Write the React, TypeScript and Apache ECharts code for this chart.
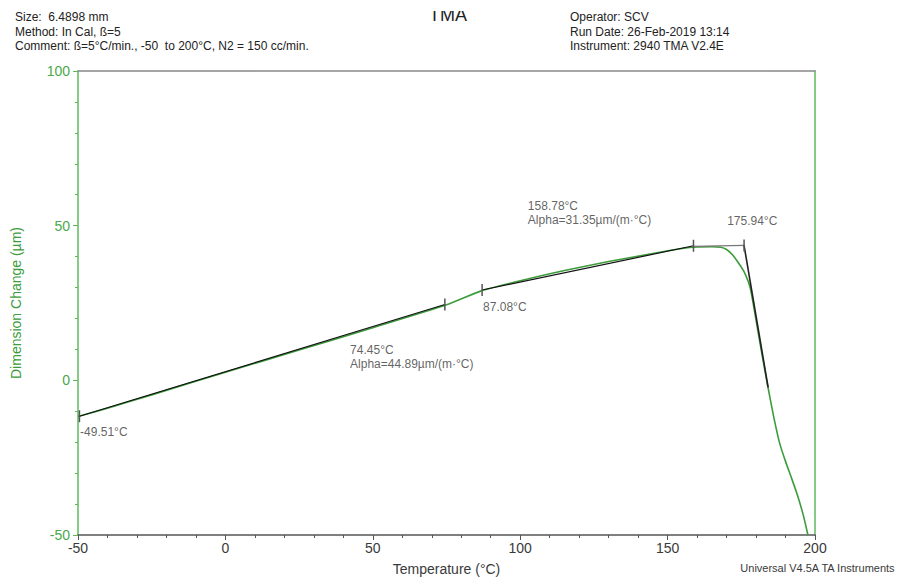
import React, { useEffect, useRef } from "react";
import * as echarts from "echarts";

const curveTemps = [-50, -40, -25, 0, 25, 50, 75, 87, 100, 115, 130, 145, 155, 160, 165, 168, 170, 172, 174, 176, 178, 180, 182, 184, 186, 188, 190, 192, 194, 196, 197.6];
const curveValues = [-11.7, -9.0, -4.7, 2.6, 9.8, 17.0, 24.4, 29.0, 32.2, 35.5, 38.4, 41.0, 42.6, 43.1, 43.2, 43.0, 42.3, 40.6, 38.0, 35.0, 30.0, 19.5, 8.5, -2.0, -11.8, -20.3, -26.2, -31.5, -37.0, -43.5, -50.0];

const tangent1 = [[-49.51, -11.6], [74.45, 24.5]];
const tangent2 = [[87.08, 29.2], [158.78, 43.5]];
const onsetBase = [[158.78, 43.3], [175.94, 43.6]];
const onsetSteep = [[175.94, 43.6], [184.1, -2.3]];

const annotationPoints = [
  { at: [-49.3, -16.8], text: "-49.51°C" },
  { at: [42.3, 7.6], text: "74.45°C\nAlpha=44.89µm/(m·°C)" },
  { at: [87.4, 23.6], text: "87.08°C" },
  { at: [102.6, 54.0], text: "158.78°C\nAlpha=31.35µm/(m·°C)" },
  { at: [170.2, 51.4], text: "175.94°C" },
];

const headerLeft = ["Size:  6.4898 mm", "Method: In Cal, ß=5", "Comment: ß=5°C/min., -50  to 200°C, N2 = 150 cc/min."];
const headerRight = ["Operator: SCV", "Run Date: 26-Feb-2019 13:14", "Instrument: 2940 TMA V2.4E"];
const title = "TMA";
const footer = "Universal V4.5A TA Instruments";

const FONT = "'Liberation Sans', Arial, sans-serif";
const GREEN = "#3c9c3c";
const AXIS_GREEN = "#5cb85c";
const LABEL_GREEN = "#4aa84a";
const DARK = "#3a3a3a";

export default function App() {
  const ref = useRef<HTMLDivElement>(null);
  useEffect(() => {
    if (!ref.current) return;
    const chart = echarts.init(ref.current, null, { renderer: "svg" });
    const tickSym = (pts: number[][], color: string, ends: boolean[]) =>
      pts.map((p, i) => ({
        value: p,
        symbol: ends[i] ? "rect" : "none",
        symbolSize: [1.5, 12],
        itemStyle: { color },
      }));
    chart.setOption({
      animation: false,
      backgroundColor: "#fff",
      textStyle: { fontFamily: FONT },
      grid: { left: 78, right: 83, top: 71, bottom: 43, containLabel: false, outerBoundsMode: "none" },
      xAxis: [
        {
          type: "value",
          min: -50,
          max: 200,
          interval: 50,
          name: "Temperature (°C)",
          nameLocation: "middle",
          nameGap: 27,
          nameTextStyle: { color: DARK, fontSize: 14, fontFamily: FONT },
          axisLine: { show: true, onZero: false, lineStyle: { color: "#555", width: 1.5 } },
          axisTick: { show: true, length: 5, lineStyle: { color: "#555" } },
          minorTick: { show: true, splitNumber: 5, length: 3, lineStyle: { color: "#555" } },
          axisLabel: { color: DARK, fontSize: 14, margin: 6, fontFamily: FONT },
          splitLine: { show: false },
        },
        {
          type: "value",
          position: "top",
          min: -50,
          max: 200,
          axisLine: { show: true, onZero: false, lineStyle: { color: "#888", width: 1.5 } },
          axisTick: { show: false },
          axisLabel: { show: false },
          splitLine: { show: false },
        },
      ],
      yAxis: [
        {
          type: "value",
          min: -50,
          max: 100,
          interval: 50,
          name: "Dimension Change (µm)",
          nameLocation: "middle",
          nameGap: 55,
          nameTextStyle: { color: GREEN, fontSize: 14, fontFamily: FONT },
          axisLine: { show: true, onZero: false, lineStyle: { color: AXIS_GREEN, width: 1.5 } },
          axisTick: { show: true, length: 5, lineStyle: { color: AXIS_GREEN } },
          minorTick: { show: true, splitNumber: 5, length: 3, lineStyle: { color: AXIS_GREEN } },
          axisLabel: { color: LABEL_GREEN, fontSize: 14, margin: 8, fontFamily: FONT },
          splitLine: { show: false },
        },
        {
          type: "value",
          position: "right",
          min: -50,
          max: 100,
          axisLine: { show: true, onZero: false, lineStyle: { color: AXIS_GREEN, width: 1.5 } },
          axisTick: { show: false },
          axisLabel: { show: false },
          splitLine: { show: false },
        },
      ],
      series: [
        {
          name: "curve",
          type: "line",
          smooth: 0.2,
          showSymbol: false,
          lineStyle: { color: GREEN, width: 1.6 },
          data: curveTemps.map((t, i) => [t, curveValues[i]]),
          z: 2,
        },
        {
          name: "tangent1",
          type: "line",
          lineStyle: { color: "#111", width: 1.2 },
          data: tickSym(tangent1, "#555", [true, true]),
          z: 3,
        },
        {
          name: "tangent2",
          type: "line",
          lineStyle: { color: "#111", width: 1.2 },
          data: tickSym(tangent2, "#555", [true, true]),
          z: 3,
        },
        {
          name: "onsetBase",
          type: "line",
          lineStyle: { color: "#777", width: 1.2 },
          data: tickSym(onsetBase, "#555", [false, true]),
          z: 3,
        },
        {
          name: "onsetSteep",
          type: "line",
          lineStyle: { color: "#222", width: 1.6 },
          data: tickSym(onsetSteep, "#555", [false, false]),
          z: 3,
        },
        {
          name: "annotations",
          type: "scatter",
          symbolSize: 0,
          silent: true,
          data: annotationPoints.map((a) => ({
            value: a.at,
            label: {
              show: true,
              position: "right",
              distance: 0,
              formatter: a.text,
              color: DARK,
              fontSize: 12,
              lineHeight: 14,
              fontFamily: FONT,
              align: "left",
            },
          })),
          z: 4,
        },
      ],
      graphic: [
        ...headerLeft.map((t, i) => ({
          type: "text",
          left: 15,
          top: 11 + i * 14.5,
          style: { text: t, fill: "#222", fontSize: 12, fontFamily: FONT },
        })),
        ...headerRight.map((t, i) => ({
          type: "text",
          left: 570,
          top: 11 + i * 14.5,
          style: { text: t, fill: "#222", fontSize: 12, fontFamily: FONT },
        })),
        {
          type: "text",
          left: 429,
          top: 6,
          style: { text: title, fill: "#222", fontSize: 18, fontFamily: FONT },
          z: 10,
        },
        {
          type: "rect",
          shape: { x: 420, y: 0, width: 60, height: 11 },
          style: { fill: "#fff" },
          z: 20,
        },
        {
          type: "text",
          right: 2,
          top: 562,
          style: { text: footer, fill: DARK, fontSize: 11, fontFamily: FONT },
        },
      ],
    });
    return () => chart.dispose();
  }, []);
  return <div ref={ref} style={{ position: "absolute", left: 0, top: 0, width: 898, height: 578 }} />;
}
